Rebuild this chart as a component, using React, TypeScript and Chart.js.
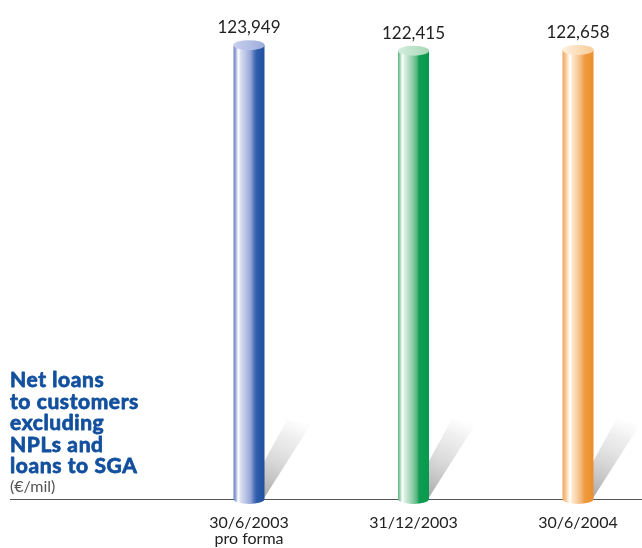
import React, { useEffect, useRef } from "react";
import { Chart, registerables } from "chart.js";

Chart.register(...registerables);

const categories: string[][] = [["30/6/2003", "pro forma"], ["31/12/2003"], ["30/6/2004"]];
const values: number[] = [123949, 122415, 122658];
const valueLabels: string[] = ["123,949", "122,415", "122,658"];
const titleLines: string[] = ["Net loans", "to customers", "excluding", "NPLs and", "loans to SGA"];
const unitLabel = "(€/mil)";
const yMax = 130000;

// styles
const bodyStops: [number, string][][] = [
  [
    [0, "#6a82c2"], [0.07, "#9aaadb"], [0.15, "#ffffff"], [0.24, "#d6dcf0"],
    [0.38, "#bcc5e6"], [0.55, "#95a5d6"], [0.68, "#4a6fb8"], [0.75, "#2d5dab"], [1, "#1f4f9e"],
  ],
  [
    [0, "#56b47c"], [0.07, "#a6d8b8"], [0.14, "#ffffff"], [0.22, "#d8eee0"],
    [0.36, "#b0dcc0"], [0.5, "#82c8a0"], [0.62, "#4fb27a"], [0.68, "#0f9c52"], [1, "#079a4c"],
  ],
  [
    [0, "#eea45a"], [0.1, "#f8c890"], [0.24, "#ffffff"], [0.32, "#fde6cc"],
    [0.45, "#f9d2a6"], [0.6, "#f4b678"], [0.72, "#ee9a40"], [1, "#ec8e2a"],
  ],
];
const topColors: [string, string][] = [
  ["#c8d0ee", "#9eacdc"],
  ["#d4eedd", "#a8d8b8"],
  ["#fff0dc", "#f8cc98"],
];

const cylinderPlugin = {
  id: "cylinders",
  beforeDatasetsDraw(chart: any) {
    const ctx: CanvasRenderingContext2D = chart.ctx;
    const meta = chart.getDatasetMeta(0);
    const yBase = chart.scales.y.getPixelForValue(0);
    ctx.save();
    meta.data.forEach((bar: any) => {
      const xr = bar.x + bar.width / 2;
      const g = ctx.createLinearGradient(xr, yBase, xr + 34, yBase - 78);
      g.addColorStop(0, "rgba(145,145,145,0.8)");
      g.addColorStop(0.45, "rgba(190,190,190,0.6)");
      g.addColorStop(0.8, "rgba(215,215,215,0.4)");
      g.addColorStop(1, "rgba(245,245,245,0.2)");
      ctx.fillStyle = g;
      ctx.beginPath();
      ctx.moveTo(xr + 23, yBase - 80);
      ctx.lineTo(xr + 46, yBase - 74);
      ctx.lineTo(xr - 1, yBase);
      ctx.lineTo(xr - 10, yBase - 20);
      ctx.closePath();
      ctx.fill();
    });
    ctx.strokeStyle = "#555";
    ctx.lineWidth = 1;
    ctx.beginPath();
    ctx.moveTo(10, Math.round(yBase) + 0.5);
    ctx.lineTo(chart.width, Math.round(yBase) + 0.5);
    ctx.stroke();
    ctx.restore();
  },
  afterDatasetsDraw(chart: any) {
    const ctx: CanvasRenderingContext2D = chart.ctx;
    const meta = chart.getDatasetMeta(0);
    const yBase = chart.scales.y.getPixelForValue(0);
    const ry = 5;
    ctx.save();
    meta.data.forEach((bar: any, i: number) => {
      const w = bar.width;
      const l = bar.x - w / 2;
      const r = bar.x + w / 2;
      const top = bar.y;
      const g = ctx.createLinearGradient(l, 0, r, 0);
      bodyStops[i].forEach(([p, c]) => g.addColorStop(p, c));
      ctx.fillStyle = g;
      ctx.beginPath();
      ctx.moveTo(l, top);
      ctx.lineTo(l, yBase);
      ctx.ellipse(bar.x, yBase, w / 2, ry, 0, Math.PI, 0, true);
      ctx.lineTo(r, top);
      ctx.closePath();
      ctx.fill();
      const tg = ctx.createLinearGradient(l, 0, r, 0);
      tg.addColorStop(0, topColors[i][0]);
      tg.addColorStop(1, topColors[i][1]);
      ctx.fillStyle = tg;
      ctx.beginPath();
      ctx.ellipse(bar.x, top, w / 2, ry, 0, 0, Math.PI * 2);
      ctx.fill();

      // value label
      ctx.fillStyle = "#222";
      ctx.font = "17px Lato, 'Open Sans', sans-serif";
      ctx.textAlign = "center";
      ctx.textBaseline = "alphabetic";
      ctx.fillText(valueLabels[i], bar.x, top - 12);

      // category labels
      ctx.font = "16px Lato, 'Open Sans', sans-serif";
      categories[i].forEach((line, j) => {
        ctx.fillText(line, bar.x, yBase + 29 + j * 16);
      });
    });

    // title
    ctx.textAlign = "left";
    ctx.fillStyle = "#12509e";
    ctx.strokeStyle = "#12509e";
    ctx.lineWidth = 0.8;
    ctx.lineJoin = "round";
    (ctx as any).letterSpacing = "0.6px";
    ctx.font = "bold 21px Lato, 'Open Sans', sans-serif";
    titleLines.forEach((line, j) => {
      ctx.fillText(line, 10, 387 + j * 21.5);
      ctx.strokeText(line, 10, 387 + j * 21.5);
    });
    (ctx as any).letterSpacing = "0px";
    ctx.fillStyle = "#555";
    ctx.font = "16px Lato, 'Open Sans', sans-serif";
    ctx.fillText(unitLabel, 10, 492);
    ctx.restore();
  },
};

export default function App() {
  const ref = useRef<HTMLCanvasElement>(null);
  useEffect(() => {
    if (!ref.current) return;
    const chart = new Chart(ref.current, {
      type: "bar",
      data: {
        labels: categories.map((c) => c.join(" ")),
        datasets: [
          {
            data: values,
            backgroundColor: "rgba(0,0,0,0)",
            borderWidth: 0,
            barThickness: 31,
            clip: false as any,
          },
        ],
      },
      options: {
        responsive: false,
        devicePixelRatio: 1,
        animation: false,
        layout: { padding: { left: 249, right: 64, top: 23, bottom: 49 } },
        plugins: { legend: { display: false }, tooltip: { enabled: false }, title: { display: false } },
        scales: {
          x: { display: false, offset: false },
          y: { display: false, min: 0, max: yMax },
        },
      },
      plugins: [cylinderPlugin],
    });
    return () => chart.destroy();
  }, []);
  return (
    <div style={{ position: "absolute", left: 0, top: 0, width: 642, height: 548, background: "#fff" }}>
      <canvas ref={ref} width={642} height={548} style={{ display: "block" }} />
    </div>
  );
}
